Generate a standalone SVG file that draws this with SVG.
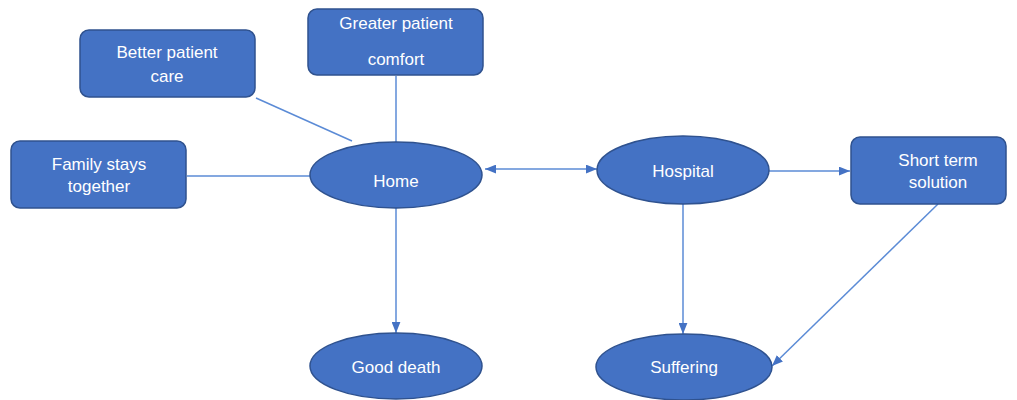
<svg xmlns="http://www.w3.org/2000/svg" width="1017" height="400" viewBox="0 0 1017 400">
<style>
.node{fill:#4472C4;stroke:#2F528F;stroke-width:1.5}
.lbl{font-family:"Liberation Sans",Arial,sans-serif;font-size:17px;fill:#FFFFFF;text-anchor:middle}
.conn{stroke:#5B8BD6;stroke-width:1.5;fill:none}
</style>
<defs>
<marker id="arr" viewBox="0 0 10 8" refX="10" refY="4" markerWidth="11" markerHeight="9" markerUnits="userSpaceOnUse" orient="auto-start-reverse">
<path d="M0,0 L10,4 L0,8 z" fill="#4472C4"/>
</marker>
</defs>
<rect width="1017" height="400" fill="#FFFFFF"/>
<g id="connectors">
<line class="conn" x1="256" y1="98" x2="352" y2="141"/>
<line class="conn" x1="396" y1="76" x2="396" y2="142"/>
<line class="conn" x1="187" y1="176" x2="310" y2="176"/>
<line class="conn" x1="485" y1="169" x2="597" y2="169" marker-start="url(#arr)" marker-end="url(#arr)"/>
<line class="conn" x1="769" y1="171" x2="850" y2="171" marker-end="url(#arr)"/>
<line class="conn" x1="396" y1="208" x2="396" y2="333" marker-end="url(#arr)"/>
<line class="conn" x1="683" y1="204" x2="683" y2="334" marker-end="url(#arr)"/>
<line class="conn" x1="938" y1="204" x2="772" y2="366" marker-end="url(#arr)"/>
</g>
<g id="better-care">
<rect class="node" x="80" y="30" width="175" height="67" rx="9"/>
<text class="lbl" x="167" y="58">Better patient</text>
<text class="lbl" x="167" y="82">care</text>
</g>
<g id="greater-comfort">
<rect class="node" x="308" y="9" width="175" height="66" rx="9"/>
<text class="lbl" x="396" y="29">Greater patient</text>
<text class="lbl" x="396" y="65">comfort</text>
</g>
<g id="family">
<rect class="node" x="11" y="141" width="175" height="67" rx="9"/>
<text class="lbl" x="99" y="170">Family stays</text>
<text class="lbl" x="99" y="192">together</text>
</g>
<g id="home">
<ellipse class="node" cx="396" cy="175" rx="86" ry="33"/>
<text class="lbl" x="396" y="187">Home</text>
</g>
<g id="hospital">
<ellipse class="node" cx="683" cy="170" rx="86" ry="34"/>
<text class="lbl" x="683" y="177">Hospital</text>
</g>
<g id="short-term">
<rect class="node" x="851" y="137" width="155" height="67" rx="9"/>
<text class="lbl" x="938" y="166">Short term</text>
<text class="lbl" x="938" y="188">solution</text>
</g>
<g id="good-death">
<ellipse class="node" cx="396" cy="366" rx="86" ry="33"/>
<text class="lbl" x="396" y="373">Good death</text>
</g>
<g id="suffering">
<ellipse class="node" cx="684" cy="367" rx="88" ry="33"/>
<text class="lbl" x="684" y="373">Suffering</text>
</g>
</svg>
